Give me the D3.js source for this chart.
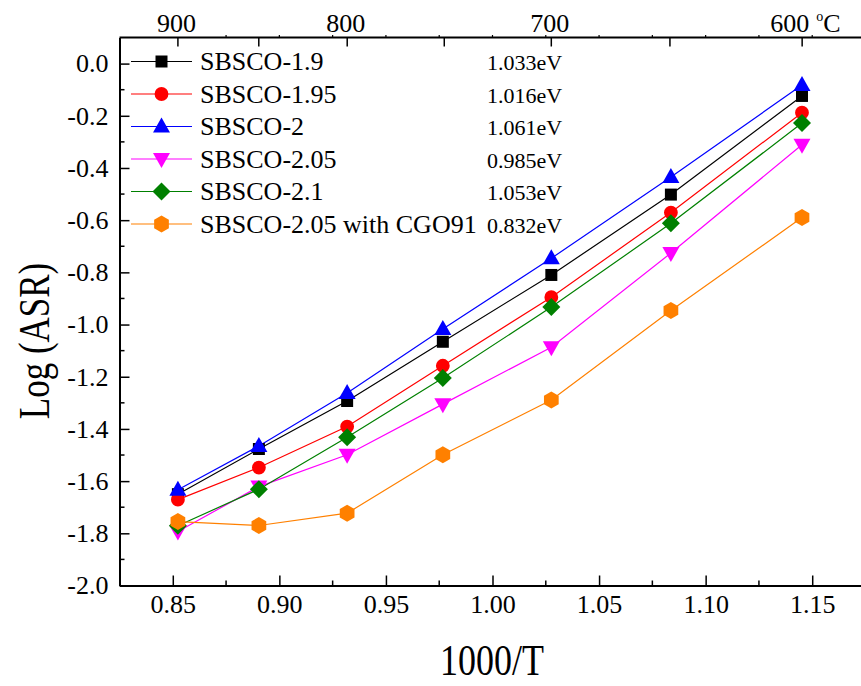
<!DOCTYPE html>
<html>
<head>
<meta charset="utf-8">
<script src="https://cdn.jsdelivr.net/npm/d3@7"></script>
<style>
  html, body { margin: 0; padding: 0; background: #fff; }
  svg { display: block; font-family: "Liberation Serif", "Times New Roman", serif; }
</style>
</head>
<body>
<svg id="chart" width="861" height="686"></svg>
<script>
// Inverse temperature (1000/T, K^-1) for 900, 850, ..., 600 °C
const invT = [0.8524, 0.8904, 0.9318, 0.9767, 1.0276, 1.0837, 1.1452];

const seriesNames = ["SBSCO-1.9", "SBSCO-1.95", "SBSCO-2", "SBSCO-2.05", "SBSCO-2.1", "SBSCO-2.05 with CGO91"];
const activation = ["1.033eV", "1.016eV", "1.061eV", "0.985eV", "1.053eV", "0.832eV"];
const colors = ["#000000", "#ff0000", "#0000ff", "#ff00ff", "#008000", "#ff8000"];
const shapes = ["square", "circle", "triangle", "triangleDown", "diamond", "hexagon"];

// log(ASR) values per composition
const sbsco19   = [-1.650, -1.477, -1.293, -1.066, -0.810, -0.502, -0.124];
const sbsco195  = [-1.671, -1.548, -1.391, -1.158, -0.895, -0.571, -0.188];
const sbsco2    = [-1.633, -1.465, -1.262, -1.017, -0.746, -0.435, -0.082];
const sbsco205  = [-1.793, -1.621, -1.499, -1.305, -1.087, -0.726, -0.311];
const sbsco21   = [-1.771, -1.631, -1.432, -1.205, -0.933, -0.612, -0.228];
const sbsco205c = [-1.755, -1.770, -1.723, -1.499, -1.289, -0.946, -0.590];
const seriesValues = [sbsco19, sbsco195, sbsco2, sbsco205, sbsco21, sbsco205c];

// Axis ticks
const xTicks = [0.85, 0.90, 0.95, 1.00, 1.05, 1.10, 1.15];
const yTicks = [0.0, -0.2, -0.4, -0.6, -0.8, -1.0, -1.2, -1.4, -1.6, -1.8, -2.0];
const tempMajor = [900, 800, 700, 600];
const tempMinor = [850, 750, 650];

const svg = d3.select("#chart");

const x = d3.scaleLinear().domain([0.825, 1.175]).range([119.5, 865.5]);
const y = d3.scaleLinear().domain([-2.0, 0.1]).range([585.5, 37.5]);
const tempToX = t => x(1000 / (t + 273.15));

// Bottom axis
const bottomAxis = svg.append("g").attr("transform", `translate(0,${y.range()[0]})`)
  .call(d3.axisBottom(x).tickValues(xTicks).tickFormat(d => d.toFixed(2))
        .tickSizeInner(-10).tickSizeOuter(0).tickPadding(9));
// minor ticks
svg.append("g").selectAll("line")
  .data(d3.range(0.875, 1.175, 0.05))
  .join("line")
  .attr("x1", d => x(d)).attr("x2", d => x(d))
  .attr("y1", y.range()[0]).attr("y2", y.range()[0] - 5)
  .attr("stroke", "#000").attr("stroke-width", 1.5);

// Left axis (plain hyphen for negative labels)
const leftAxis = svg.append("g").attr("transform", `translate(${x.range()[0]},0)`)
  .call(d3.axisLeft(y).tickValues(yTicks).tickFormat(d => d.toFixed(1))
        .tickSizeInner(-10).tickSizeOuter(0).tickPadding(11));
svg.append("g").selectAll("line")
  .data(d3.range(-1.9, 0.05, 0.2))
  .join("line")
  .attr("x1", x.range()[0]).attr("x2", x.range()[0] + 5)
  .attr("y1", d => y(d)).attr("y2", d => y(d))
  .attr("stroke", "#000").attr("stroke-width", 1.5);

// Top axis in °C
const topAxis = svg.append("g").attr("transform", `translate(0,${y.range()[1]})`);
topAxis.append("line")
  .attr("x1", x.range()[0]).attr("x2", x.range()[1])
  .attr("y1", 0).attr("y2", 0)
  .attr("stroke", "#000").attr("stroke-width", 2);
topAxis.selectAll("line.maj")
  .data(tempMajor.concat(tempMinor))
  .join("line").attr("class", "maj")
  .attr("x1", d => tempToX(d)).attr("x2", d => tempToX(d))
  .attr("y1", 0).attr("y2", 9)
  .attr("stroke", "#000").attr("stroke-width", 1.5);
topAxis.selectAll("line.bump")
  .data(d3.range(0.875, 1.175, 0.025))
  .join("line").attr("class", "bump")
  .attr("x1", d => x(d)).attr("x2", d => x(d))
  .attr("y1", 0).attr("y2", -2.5)
  .attr("stroke", "#000").attr("stroke-width", 1.2);
topAxis.selectAll("text.tlab")
  .data(tempMajor)
  .join("text").attr("class", "tlab")
  .attr("x", d => d === 600 ? tempToX(d) + 7 : tempToX(d) - 1.5)
  .attr("y", -6)
  .attr("text-anchor", d => d === 600 ? "end" : "middle")
  .attr("font-size", 26)
  .text(d => d);
const unit = topAxis.append("text")
  .attr("x", tempToX(600) + 14).attr("y", -6)
  .attr("font-size", 26);
unit.append("tspan").attr("font-size", 14).attr("dy", -11).text("o");
unit.append("tspan").attr("dy", 11).text("C");

// Axis styling
[bottomAxis, leftAxis].forEach(g => {
  g.select(".domain").attr("stroke-width", 2);
  g.selectAll(".tick line").attr("stroke-width", 1.5);
  g.selectAll(".tick text").attr("font-size", 26).attr("fill", "#000")
    .attr("font-family", "Liberation Serif, Times New Roman, serif");
});

// Axis titles (tall, narrow lettering)
svg.append("text")
  .attr("transform", "translate(492,675) scale(1,1.25)")
  .attr("text-anchor", "middle").attr("font-size", 36)
  .text("1000/T");
svg.append("text")
  .attr("transform", "translate(49,341) rotate(-90) scale(1,1.25)")
  .attr("text-anchor", "middle").attr("font-size", 35)
  .text("Log (ASR)");

// Marker path generator
function markerPath(shape) {
  switch (shape) {
    case "square": return "M-6,-6H6V6H-6Z";
    case "circle": return d3.symbol(d3.symbolCircle, 150)();
    case "triangle": return "M0,-9L8.5,6L-8.5,6Z";
    case "triangleDown": return "M0,9L8.5,-6L-8.5,-6Z";
    case "diamond": return "M0,-9L9,0L0,9L-9,0Z";
    case "hexagon": {
      const r = 8.5;
      return d3.range(6).map((i, k) => {
        const a = Math.PI / 3 * i - Math.PI / 2;
        return (k ? "L" : "M") + (r * Math.cos(a)).toFixed(2) + "," + (r * Math.sin(a)).toFixed(2);
      }).join("") + "Z";
    }
  }
}

// Data lines and markers
const lineGen = d3.line().x((d, i) => x(invT[i])).y(d => y(d));
const plot = svg.append("g");
seriesValues.forEach((vals, s) => {
  plot.append("path")
    .attr("d", lineGen(vals))
    .attr("fill", "none").attr("stroke", colors[s]).attr("stroke-width", 1.2);
});
seriesValues.forEach((vals, s) => {
  plot.append("g").selectAll("path")
    .data(vals)
    .join("path")
    .attr("transform", (d, i) => `translate(${x(invT[i])},${y(d)})`)
    .attr("d", markerPath(shapes[s]))
    .attr("fill", colors[s]);
});

// Legend
const legend = svg.append("g");
seriesNames.forEach((name, s) => {
  const cy = 61.5 + s * 32.5;
  legend.append("line")
    .attr("x1", 131).attr("x2", 192).attr("y1", cy).attr("y2", cy)
    .attr("stroke", colors[s]).attr("stroke-width", 1.2);
  legend.append("path")
    .attr("transform", `translate(161.5,${cy})`)
    .attr("d", markerPath(shapes[s]))
    .attr("fill", colors[s]);
  legend.append("text")
    .attr("x", 200).attr("y", cy + 8.5)
    .attr("font-size", 26).text(name);
  legend.append("text")
    .attr("x", 487).attr("y", cy + 8.5)
    .attr("font-size", 22).text(activation[s]);
});
</script>
</body>
</html>
